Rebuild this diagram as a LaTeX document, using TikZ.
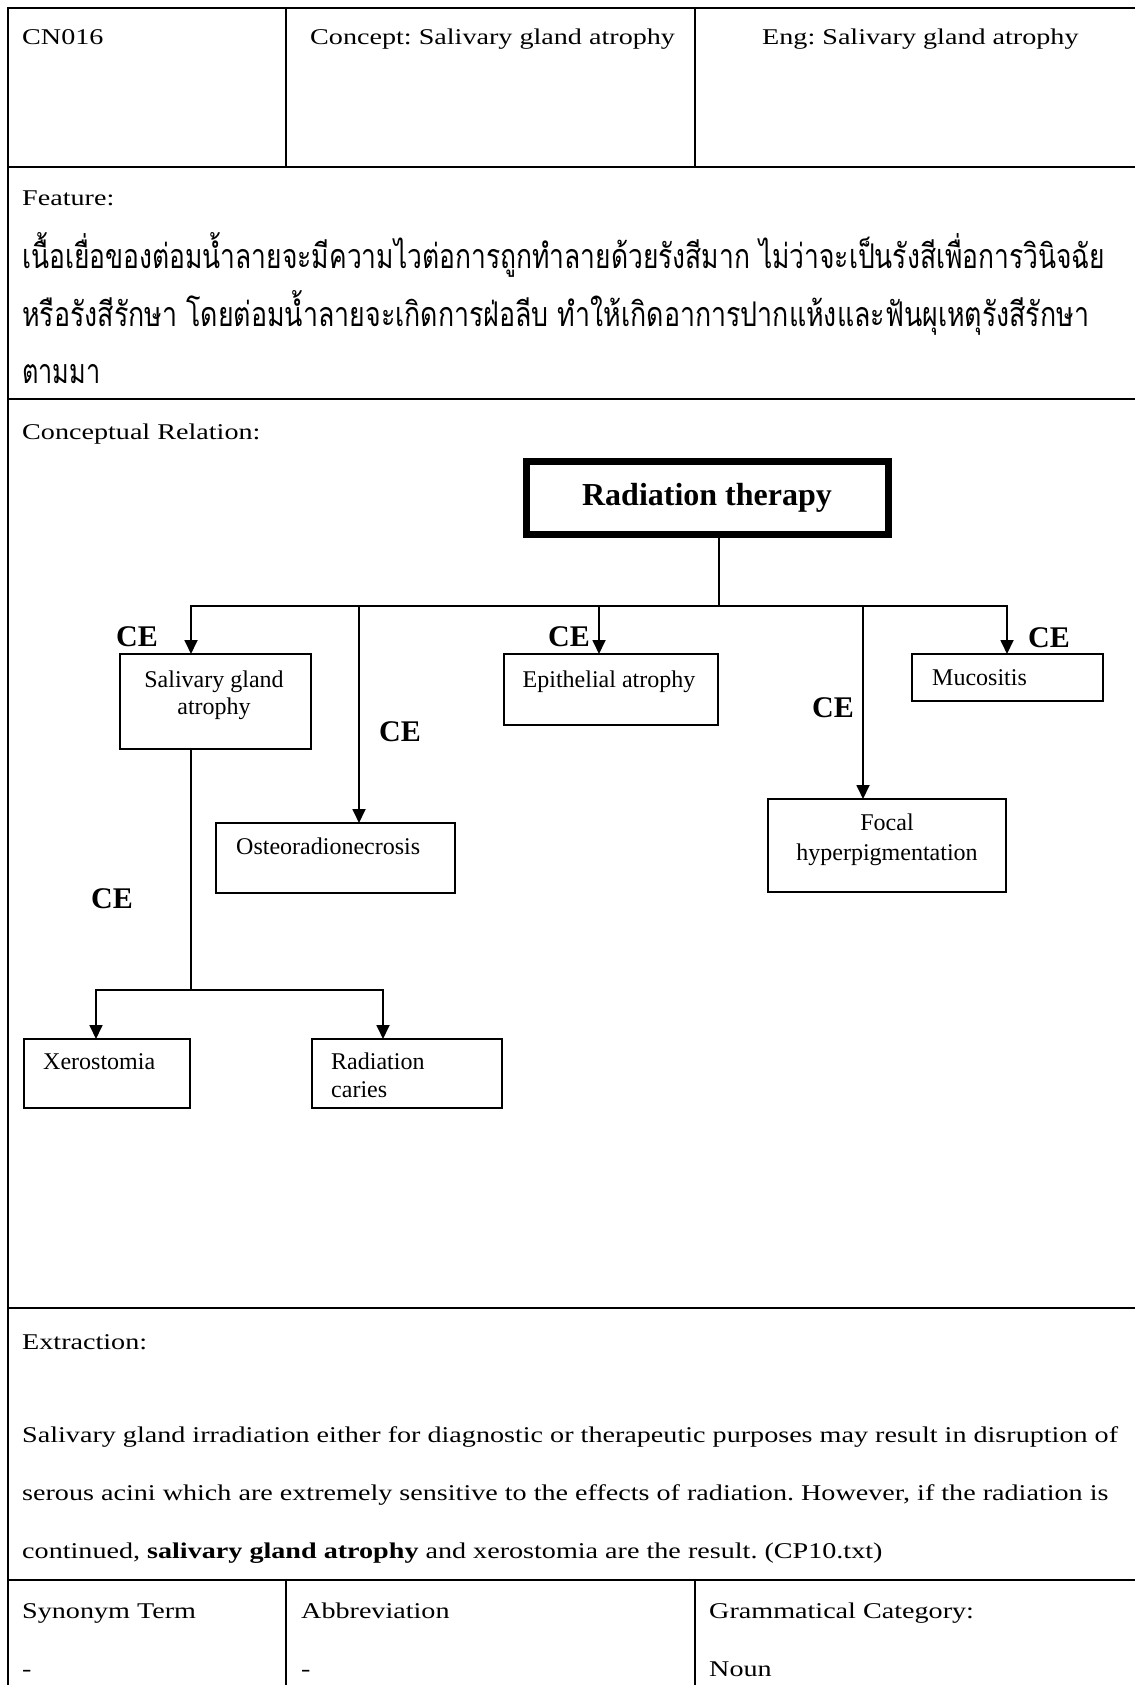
\documentclass[tikz,border=0pt]{standalone}
\usepackage{fontspec}
\setmainfont{Liberation Serif}
\newfontfamily\tabfont{Liberation Serif}[FakeStretch=1.25]
\newfontfamily\thaifont[Script=Thai]{Loma}
\usetikzlibrary{arrows.meta}
\frenchspacing
\begin{document}
\begin{tikzpicture}[x=1pt,y=-1pt,
  tline/.style={line width=2.8pt},
  vline/.style={line width=2pt},
  box/.style={draw, line width=2.2pt, inner sep=0pt, outer sep=0pt},
  conn/.style={line width=1.8pt},
  arr/.style={line width=1.8pt, -{Triangle[length=14pt,width=13pt]}},
  ttext/.style={anchor=base west, inner sep=0pt, font=\tabfont\fontsize{22.5}{27}\selectfont\frenchspacing},
  thtext/.style={anchor=base west, inner sep=0pt},
  dtext/.style={anchor=base, inner sep=0pt, font=\fontsize{24}{28}\selectfont},
  ce/.style={anchor=base, inner sep=0pt, font=\bfseries\fontsize{30}{32}\selectfont},
]
\fill[white] (0,0) rectangle (1135,1685);
\useasboundingbox (0,0) rectangle (1135,1685);

% table frame
\foreach \yy in {8,167,399,1308,1580} \draw[tline] (7,\yy) -- (1135,\yy);
\draw[vline] (8,7) -- (8,1685);
\draw[vline] (286,8) -- (286,167);
\draw[vline] (695,8) -- (695,167);
\draw[vline] (286,1580) -- (286,1685);
\draw[vline] (695,1580) -- (695,1685);

% table texts
\node[ttext] (id) at (22,45) {CN016};
\node[ttext] (concept) at (310,45) {Concept: Salivary gland atrophy};
\node[ttext] (eng) at (762,45) {Eng: Salivary gland atrophy};
\node[ttext] (feat) at (22,206) {Feature:};
\node[thtext] (th1) at (22,269) {\resizebox{1083pt}{\height}{\thaifont\fontsize{34}{40}\selectfont เนื้อเยื่อของต่อมน้ำลายจะมีความไวต่อการถูกทำลายด้วยรังสีมาก ไม่ว่าจะเป็นรังสีเพื่อการวินิจฉัย}};
\node[thtext] (th2) at (22,326) {\resizebox{1067pt}{\height}{\thaifont\fontsize{34}{40}\selectfont หรือรังสีรักษา โดยต่อมน้ำลายจะเกิดการฝ่อลีบ ทำให้เกิดอาการปากแห้งและฟันผุเหตุรังสีรักษา}};
\node[thtext] (th3) at (22,383) {\resizebox{78pt}{\height}{\thaifont\fontsize{34}{40}\selectfont ตามมา}};
\node[ttext] (crel) at (22,439) {Conceptual Relation:};
\node[ttext] (extr) at (22,1349) {Extraction:};
\node[ttext] (ex1) at (22,1442) {Salivary gland irradiation either for diagnostic or therapeutic purposes may result in disruption of};
\node[ttext] (ex2) at (22,1500) {serous acini which are extremely sensitive to the effects of radiation. However, if the radiation is};
\node[ttext] (ex3) at (22,1558) {continued, \textbf{salivary gland atrophy} and xerostomia are the result. (CP10.txt)};
\node[ttext] (syn) at (22,1618) {Synonym Term};
\node[ttext] (synv) at (22,1676) {-};
\node[ttext] (abb) at (301,1618) {Abbreviation};
\node[ttext] (abbv) at (301,1676) {-};
\node[ttext] (gram) at (709,1618) {Grammatical Category:};
\node[ttext] (gramv) at (709,1676) {Noun};

% diagram boxes
\node[draw, line width=7pt, minimum width=362pt, minimum height=73pt, inner sep=0pt, outer sep=0pt] (RT) at (707.5,498) {};
\node[anchor=base, inner sep=0pt, font=\bfseries\fontsize{32}{36}\selectfont] (RTtext) at (707,505) {Radiation therapy};
\node[box, minimum width=191pt, minimum height=95pt] (sal) at (215.5,701.5) {};
\node[box, minimum width=214pt, minimum height=71pt] (epi) at (611,689.5) {};
\node[box, minimum width=191pt, minimum height=47pt] (muc) at (1007.5,677.5) {};
\node[box, minimum width=239pt, minimum height=70pt] (ost) at (335.5,858) {};
\node[box, minimum width=238pt, minimum height=93pt] (foc) at (887,845.5) {};
\node[box, minimum width=166pt, minimum height=69pt] (xer) at (107,1073.5) {};
\node[box, minimum width=190pt, minimum height=69pt] (rc) at (407,1073.5) {};

% box texts
\node[dtext] (salT1) at (214,687) {Salivary gland};
\node[dtext] (salT2) at (214,714) {atrophy};
\node[dtext] (epiT) at (609,687) {Epithelial atrophy};
\node[dtext, anchor=base west] (mucT) at (932,685) {Mucositis};
\node[dtext, anchor=base west] (ostT) at (236,854) {Osteoradionecrosis};
\node[dtext] (focT1) at (887,830) {Focal};
\node[dtext] (focT2) at (887,860) {hyperpigmentation};
\node[dtext, anchor=base west] (xerT) at (43,1069) {Xerostomia};
\node[dtext, anchor=base west] (rcT1) at (331,1069) {Radiation};
\node[dtext, anchor=base west] (rcT2) at (331,1097) {caries};

% connectors
\coordinate (bus) at (719,606);
\coordinate (dSal) at (191,606);
\coordinate (dOst) at (359,606);
\coordinate (dEpi) at (599,606);
\coordinate (dFoc) at (863,606);
\coordinate (dMuc) at (1007,606);
\draw[conn] (RT.south -| bus) -- (bus);
\draw[arr] (bus) -| (sal.north -| dSal);
\draw[arr] (bus) -| (muc.north -| dMuc);
\draw[arr] (dOst) -- (ost.north -| dOst);
\draw[arr] (dEpi) -- (epi.north -| dEpi);
\draw[arr] (dFoc) -- (foc.north -| dFoc);

\coordinate (jSal) at (191,990);
\coordinate (dXer) at (96,990);
\coordinate (dRc) at (383,990);
\draw[conn] (sal.south -| jSal) -- (jSal);
\draw[arr] (jSal) -| (xer.north -| dXer);
\draw[arr] (jSal) -| (rc.north -| dRc);

% CE labels
\node[ce] (ce1) at (137,646) {CE};
\node[ce] (ce2) at (400,741) {CE};
\node[ce] (ce3) at (569,646) {CE};
\node[ce] (ce4) at (1049,647) {CE};
\node[ce] (ce5) at (833,717) {CE};
\node[ce] (ce6) at (112,908) {CE};
\end{tikzpicture}
\end{document}
